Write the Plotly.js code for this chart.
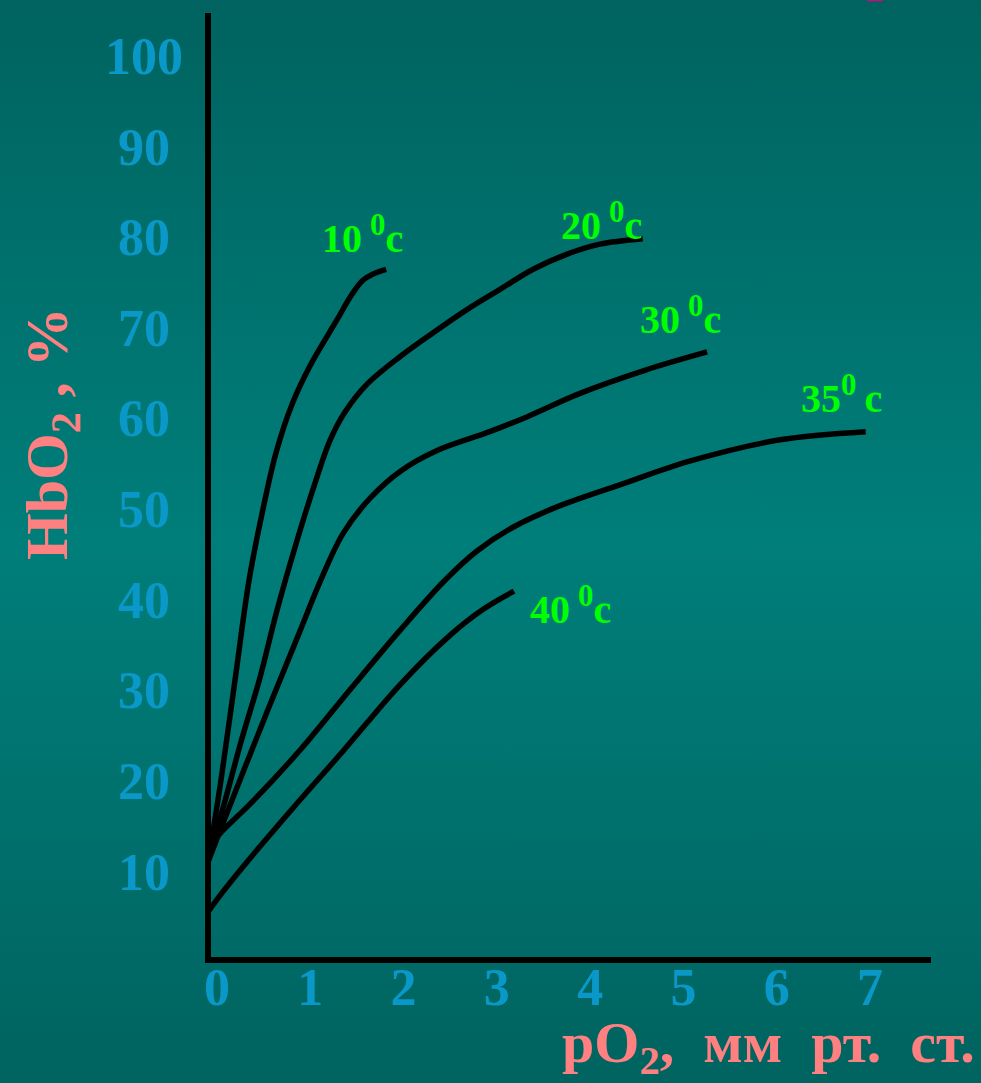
<!DOCTYPE html>
<html>
<head>
<meta charset="utf-8">
<script src="https://cdn.plot.ly/plotly-3.0.1.min.js"></script>
<style>
  html, body { margin: 0; padding: 0; }
  body {
    width: 981px; height: 1083px; overflow: hidden;
    background: linear-gradient(to bottom, #00635f 0%, #00716d 25%, #007e7a 50%, #00716d 75%, #00635f 100%);
  }
  #chart { width: 981px; height: 1083px; }
</style>
</head>
<body>
<div id="chart"></div>
<script>
// Temperatures of the curves (°C)
const temps = ['10', '20', '30', '35', '40'];

// pO2, мм рт. ст. and HbO2, % for each curve
const x10 = [0, 0.14, 0.29, 0.44, 0.58, 0.73, 0.90, 1.09, 1.38, 1.54, 1.66, 1.77, 1.91];
const y10 = [10.7, 19.9, 30.9, 41.9, 49.3, 56.0, 61.3, 65.5, 70.6, 73.4, 75.0, 75.7, 76.2];

const x20 = [0, 0.17, 0.36, 0.55, 0.74, 0.94, 1.14, 1.31, 1.47, 1.70, 2.06, 2.41, 2.78, 3.13, 3.48, 3.85, 4.20, 4.66];
const y20 = [11.0, 17.1, 24.3, 30.9, 38.6, 45.8, 52.4, 57.4, 60.5, 63.5, 66.6, 69.2, 71.8, 74.0, 76.2, 77.9, 79.0, 79.6];

const x30 = [0, 0.16, 0.63, 0.99, 1.22, 1.45, 1.74, 2.07, 2.45, 3.02, 3.41, 3.98, 4.69, 5.35];
const y30 = [10.8, 15.1, 27.3, 36.4, 42.2, 47.1, 51.0, 54.0, 56.2, 58.3, 59.9, 62.5, 65.1, 67.1];

const x35 = [0, 0.15, 0.45, 0.99, 1.52, 2.06, 2.54, 2.88, 3.26, 3.74, 4.46, 5.18, 6.13, 7.05];
const y35 = [12.4, 14.2, 17.2, 23.2, 29.8, 36.4, 41.9, 45.1, 47.7, 50.0, 52.6, 55.1, 57.4, 58.3];

const x40 = [0, 0.15, 0.40, 0.93, 1.46, 2.06, 2.59, 2.95, 3.28];
const y40 = [5.3, 7.4, 10.6, 17.0, 23.2, 30.4, 35.8, 38.7, 40.7];

// Label anchor positions (data units) for the temperature labels
const labelX = [1.20, 3.76, 4.61, 6.33, 3.43];
const labelY = [80.1, 81.6, 71.2, 62.5, 39.2];

// Tick labels
const xTickVals = [0, 1, 2, 3, 4, 5, 6, 7];
const xTickLabels = ['0', '1', '2', '3', '4', '5', '6', '7'];
const yTickVals = [10, 20, 30, 40, 50, 60, 70, 80, 90, 100];
const yTickLabels = ['10', '20', '30', '40', '50', '60', '70', '80', '90', '100'];

const xs = [x10, x20, x30, x35, x40];
const ys = [y10, y20, y30, y35, y40];

const traces = xs.map((x, i) => ({
  type: 'scatter', mode: 'lines', x: x, y: ys[i],
  name: temps[i] + ' °C',
  line: { color: '#000000', width: 5.5, shape: 'spline', smoothing: 1.0 },
  hoverinfo: 'skip', showlegend: false
}));

const serif = '"Liberation Serif", "Times New Roman", serif';
const tickColor = '#0a98c8';
const titleColor = '#ff8080';
const green = '#00ff00';

const sup0 = '<sup><span style="font-size:31px">0</span></sup>';
const annotations = temps.map((t, i) => ({
  xref: 'x', yref: 'y', x: labelX[i], y: labelY[i],
  text: t === '35' ? t + sup0 + '\u2009c' : t + '\u2009' + sup0 + 'c',
  showarrow: false, xanchor: 'left', yanchor: 'middle',
  font: { family: serif, size: 40, color: green, weight: 'bold' }
}));

annotations.push({
  xref: 'paper', yref: 'paper', x: -0.2158, y: 0.5565,
  text: 'HbO<sub>2</sub> , %', textangle: -90,
  showarrow: false, xanchor: 'center', yanchor: 'middle',
  font: { family: serif, size: 60, color: titleColor, weight: 'bold' }
});
annotations.push({
  xref: 'paper', yref: 'paper', x: 1.0636, y: -0.0915,
  text: 'pO<sub>2</sub>,\u2002мм\u2002рт.\u2002ст.',
  showarrow: false, xanchor: 'right', yanchor: 'middle',
  font: { family: serif, size: 58, color: titleColor, weight: 'bold' }
});

const layout = {
  width: 981, height: 1083,
  margin: { l: 208, r: 50, t: 13, b: 123, pad: 0 },
  paper_bgcolor: 'rgba(0,0,0,0)',
  plot_bgcolor: 'rgba(0,0,0,0)',
  showlegend: false,
  xaxis: {
    range: [0, 7.75], showgrid: false, zeroline: false, showline: false,
    ticks: '', tickvals: xTickVals, ticktext: xTickLabels,
    ticklabelshift: 9, ticklabelstandoff: -8,
    tickfont: { family: serif, size: 52, color: tickColor, weight: 'bold' }
  },
  yaxis: {
    range: [0, 104.5], showgrid: false, zeroline: false, showline: false,
    ticks: '', tickvals: yTickVals,
    ticktext: yTickLabels.map(s => s.length < 3 ? s + '\u00a0' : s),
    ticklabelshift: 2, ticklabelstandoff: 24,
    tickfont: { family: serif, size: 52, color: tickColor, weight: 'bold' }
  },
  shapes: [
    { type: 'line', xref: 'paper', yref: 'paper', x0: 0, x1: 0, y0: -0.0032, y1: 1,
      line: { color: '#000000', width: 6 } },
    { type: 'line', xref: 'paper', yref: 'paper', x0: -0.0042, x1: 1, y0: 0, y1: 0,
      line: { color: '#000000', width: 6 } },
    { type: 'rect', xref: 'paper', yref: 'paper', x0: 0.9115, x1: 0.9336, y0: 1.0125, y1: 1.0140,
      fillcolor: '#e0007f', line: { width: 0 } }
  ],
  annotations: annotations
};

Plotly.newPlot('chart', traces, layout, { displayModeBar: false, staticPlot: true });
</script>
</body>
</html>
